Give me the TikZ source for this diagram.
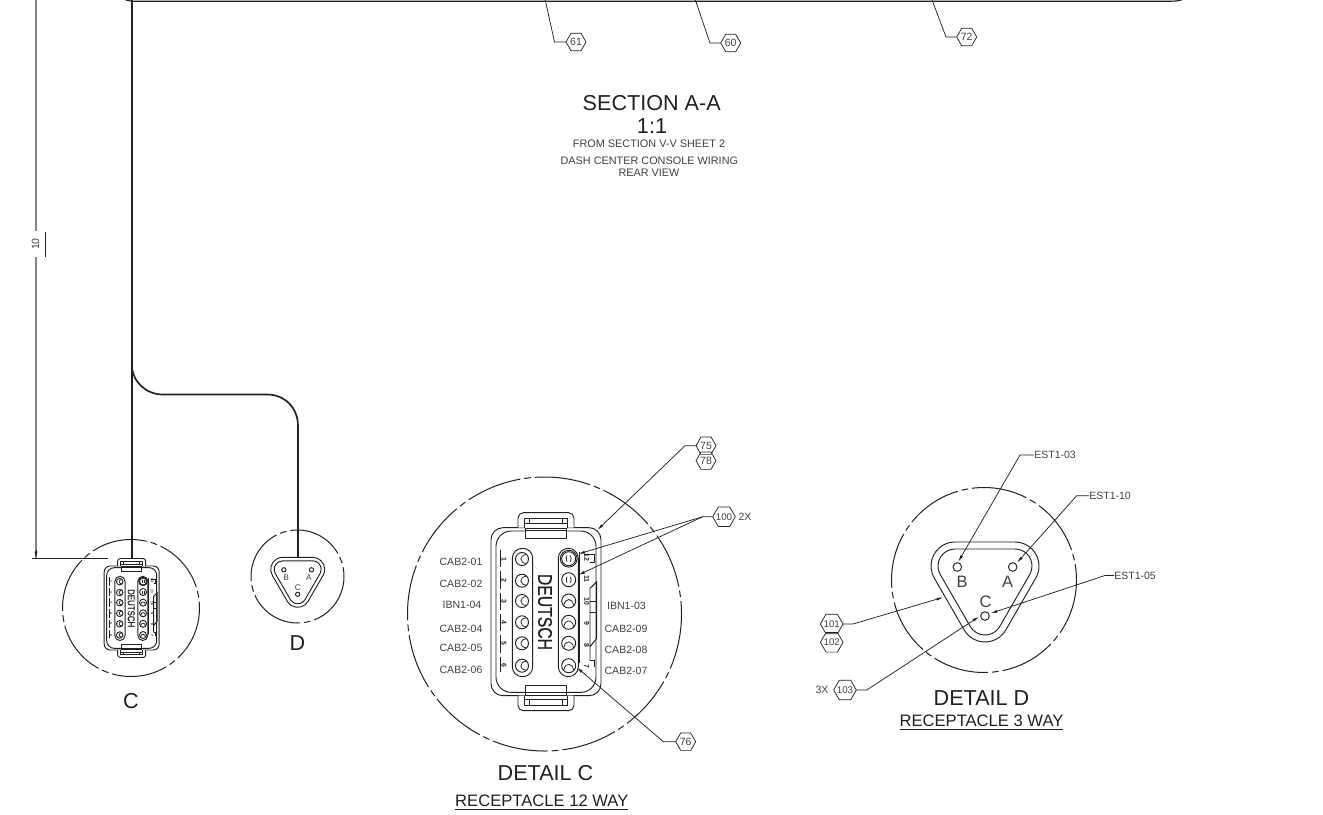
\documentclass[tikz,border=0pt]{standalone}
\usepackage{fontspec}
\usepackage{graphicx}
\setmainfont{Liberation Sans}
\newfontfamily\deutfont{Liberation Sans}[FakeBold=0.9]
\usetikzlibrary{arrows.meta,shapes.geometric}
\definecolor{ink}{HTML}{231F20}
\definecolor{soft}{HTML}{414042}
\definecolor{dimgrey}{HTML}{858585}
\tikzset{
  x=0.75pt,y=-0.75pt,
  line/.style={draw=ink,line width=0.7pt},
  wire/.style={draw=ink,line width=1.25pt},
  phantom/.style={draw=ink,line width=0.75pt,dash pattern=on 42pt off 3pt on 5pt off 3pt},
  lead/.style={draw=ink,line width=0.55pt,-{Latex[length=5pt,width=2.2pt]}},
  plain/.style={draw=ink,line width=0.55pt},
  dimline/.style={draw=dimgrey,line width=1pt},
  lbl/.style={text=soft,inner sep=0pt,font=\fontsize{7.9pt}{9pt}\selectfont},
  note/.style={text=soft,inner sep=0pt,font=\fontsize{8.15pt}{9pt}\selectfont},
  title/.style={text=ink,inner sep=0pt,font=\fontsize{16.2pt}{18pt}\selectfont},
  sub/.style={text=ink,inner sep=0pt,font=\fontsize{12.45pt}{15pt}\selectfont},
  hexa/.style={regular polygon,regular polygon sides=6,draw=ink,line width=0.55pt,inner sep=0pt,outer sep=0pt,minimum size=15pt,text=soft,font=\fontsize{7.9pt}{8pt}\selectfont},
  widehexa/.style={hexa,minimum size=17pt,font=\fontsize{7.3pt}{8pt}\selectfont},
  pinnum/.style={text=ink,inner sep=0pt,rotate=-90,font=\bfseries\fontsize{5.2pt}{6pt}\selectfont},
}
\newcommand{\hx}[3]{\node[hexa] (#1) at (#2) {\makebox[0pt]{#3}};}
\newcommand{\hxw}[3]{\node[widehexa] (#1) at (#2) {\makebox[0pt]{#3}};}
% #1 cx, #2 cy, #3 scale
\newcommand{\rcptwelve}[3]{%
\begin{scope}[shift={(#1,#2)},scale=#3,transform shape]
  \draw[line,rounded corners=#3*9pt] (-55,-84) rectangle (55,84);
  \draw[line,rounded corners=#3*11.5pt] (-50,-80.7) rectangle (50,80.7);
  \foreach \s in {1,-1}{
    \draw[line,fill=white,rounded corners=#3*4pt] (-28,\s*-84) -- (-28,\s*-99) -- (28,\s*-99) -- (28,\s*-84);
    \draw[line,fill=white] (-22,\s*-84) -- (-22,\s*-93.7) -- (21,\s*-93.7) -- (21,\s*-84);
    \draw[line] (-22,\s*-88) -- (-17,\s*-88) -- (-17,\s*-93.7);
    \draw[line] (21,\s*-88) -- (16,\s*-88) -- (16,\s*-93.7);
    \draw[line,fill=white] (-21,\s*-83.4) rectangle (20,\s*-73.4);
    \draw[line] (-21,\s*-81) -- (20,\s*-81);
    \draw[line] (-17,\s*-88) -- (16,\s*-88);
  }
  \draw[line,rounded corners=#3*7.5pt] (-33.7,-63.4) rectangle (-13.3,65);
  \draw[line,rounded corners=#3*7.5pt] (12.3,-63.4) rectangle (32.3,65);
  \foreach \y in {-52.7,-31,-10.7,10.6,31.6,54}{
    \draw[line] (-24,\y) circle [radius=6.5];
    \draw[plain] (-19.5,\y-4.5) .. controls (-27,\y-4) and (-27,\y+4) .. (-19.5,\y+4.5);
  }
  \foreach \y in {-53,-32}{
    \draw[line] (22.7,\y) circle [radius=7];
    \draw[plain] (21,\y-3) .. controls (20,\y-1) and (20,\y+1) .. (21,\y+3);
    \draw[plain] (24.4,\y-3) .. controls (25.4,\y-1) and (25.4,\y+1) .. (24.4,\y+3);
  }
  \draw[line] (22.7,-53) circle [radius=8.4];
  \foreach \y in {-10.7,10.6,31.6,54}{
    \draw[line] (22.7,\y) circle [radius=7];
    \draw[plain] (17.8,\y+4.5) .. controls (19,\y-3.5) and (26.4,\y-3.5) .. (27.6,\y+4.5);
  }
  \node[text=ink,inner sep=0pt,rotate=-90,font=\deutfont\fontsize{11.8pt}{13pt}\selectfont] at (-1,0.3) {\scalebox{1}[1.25]{DEUTSCH}};
  \draw[line,dash pattern=on #3*13pt off #3*3pt] (-45.3,-61.7) -- (-45.3,60);
  \foreach \y/\t in {-52.7/1,-31/2,-10.7/3,10.6/4,31.6/5,54/6}{
    \node[pinnum] at (-42,\y) {\t};
  }
  \foreach \y/\t in {-54.7/12,-32.7/11,-10/10,11.3/9,33.3/8,55/7}{
    \node[pinnum] at (40.7,\y) {\t};
  }
  \draw[line] (33,-60) -- (33,51.6);
  \draw[line] (38,-57.7) -- (48.3,-57.7) -- (48.3,-49.3) -- (44,-49.3);
  \draw[line] (44,48.6) -- (44,-23.4) -- (50.7,-30) -- (50.7,26.6) -- (44,35);
  \draw[line] (44,-10.7) -- (50.7,-10.7);
  \draw[line] (44,0.7) -- (50.7,0.7);
  \draw[line] (44,48.6) -- (48.3,48.6) -- (48.3,55);
\end{scope}}
% hull of three circles centred (+-30,24) and (0,76)
\newcommand{\hull}[1]{(-30,24-#1) -- (30,24-#1) arc[start angle=-90,end angle=30,radius=#1] -- ++(-30,52) arc[start angle=30,end angle=150,radius=#1] -- ++(-30,-52) arc[start angle=150,end angle=270,radius=#1] -- cycle}
% #1 x of the centre line, #2 y of the top edge, #3 scale
\newcommand{\rcpthree}[3]{%
\begin{scope}[shift={(#1,#2)},scale=#3,transform shape]
  \draw[line] \hull{24};
  \draw[line] \hull{17};
  \draw[line] (-27.7,25) circle [radius=4.3];
  \draw[line] (27.7,25) circle [radius=4.3];
  \draw[line] (0,74) circle [radius=4.3];
  \node[text=soft,inner sep=0pt,font=\fontsize{12.4pt}{14pt}\selectfont] at (-23,39.7) {B};
  \node[text=soft,inner sep=0pt,font=\fontsize{12.4pt}{14pt}\selectfont] at (22.5,39.7) {A};
  \node[text=soft,inner sep=0pt,font=\fontsize{12.4pt}{14pt}\selectfont] at (0.5,60) {C};
\end{scope}}
\begin{document}
\begin{tikzpicture}
\useasboundingbox (0,0) rectangle (1323,814);
\clip (0,0) rectangle (1323,814);
\fill[white] (0,0) rectangle (1323,814);

% harness
\draw[wire] (131.7,0) -- (131.7,560);
\draw[draw=ink,line width=0.85pt] (123,-1) .. controls (127,0) and (129,1.2) .. (131.7,1.2) -- (1172,1.2) .. controls (1178,1.2) and (1182,0) .. (1186,-2);
\draw[wire] (131.7,365) .. controls (132.5,382) and (146,394.5) .. (163,394.5) -- (267,394.5) .. controls (285,394.5) and (298,408) .. (298,426) -- (298,557);

% dimension
\coordinate (dimtop) at (36,0);
\coordinate (dimgapa) at (36,231);
\coordinate (dimgapb) at (36,257);
\coordinate (dimfoot) at (36,558.3);
\coordinate (exta) at (32,558.3);
\coordinate (extb) at (108,558.3);
\coordinate (bara) at (45.5,232);
\coordinate (barb) at (45.5,257);
\draw[dimline] (dimtop) -- (dimgapa);
\draw[dimline] (dimgapb) -- (dimfoot);
\draw[lead] (36,550) -- (dimfoot);
\draw[plain] (exta) -- (extb);
\draw[line] (bara) -- (barb);
\node[lbl,rotate=90] (dimten) at (35.5,244) {10};

% section callouts
\hx{h61}{576,42}{61}
\hx{h60}{730.7,43}{60}
\hx{h72}{966.7,37}{72}
\coordinate (t61) at (545,-1); \coordinate (k61) at (554.5,42);
\coordinate (t60) at (695,-1); \coordinate (k60) at (710,43);
\coordinate (t72) at (931.7,-1); \coordinate (k72) at (946,37);
\draw[plain] (t61) -- (k61) -- (h61.west);
\draw[plain] (t60) -- (k60) -- (h60.west);
\draw[plain] (t72) -- (k72) -- (h72.west);

\node[title] (sect) at (651.7,103) {SECTION A-A};
\node[title] (scale11) at (652,126.5) {1:1};
\node[note] (from) at (649,144) {FROM SECTION V-V SHEET 2};
\node[note] (dash) at (649.3,161) {DASH CENTER CONSOLE WIRING};
\node[note] (rear) at (649,173) {REAR VIEW};

% small C and D
\draw[phantom] (131,608) circle [radius=68.5];
\rcptwelve{131.7}{608}{0.5}
\node[title] (labc) at (131,701) {C};
\draw[phantom] (297.5,576.5) circle [radius=46.5];
\rcpthree{297.7}{557.3}{0.5}
\node[title] (labd) at (297.3,643) {D};

% detail C
\draw[phantom] (544.5,614) circle [radius=137];
\rcptwelve{546}{611.7}{1}
\node[lbl] (c01) at (461,562) {CAB2-01};
\node[lbl] (c02) at (461,584) {CAB2-02};
\node[lbl] (i04) at (462,605) {IBN1-04};
\node[lbl] (c04) at (461,628.6) {CAB2-04};
\node[lbl] (c05) at (461,648) {CAB2-05};
\node[lbl] (c06) at (461,670) {CAB2-06};
\node[lbl] (i03) at (626.5,606) {IBN1-03};
\node[lbl] (c09) at (626,628.6) {CAB2-09};
\node[lbl] (c08) at (626,650.3) {CAB2-08};
\node[lbl] (c07) at (626,671) {CAB2-07};
\hx{h75}{706,445.7}{75}
\hx{h78}{706,460.7}{78}
\hxw{h100}{724,516.7}{100}
\hx{h76}{685.7,741.7}{76}
\node[lbl] (twox) at (745,517) {2X};
\coordinate (k75) at (685,445.7); \coordinate (p75) at (597.3,530);
\coordinate (k100) at (702.7,516.7); \coordinate (p100a) at (578.3,554); \coordinate (p100b) at (578.3,575);
\coordinate (k76) at (663.3,741.7); \coordinate (p76) at (576.7,667.3);
\draw[lead] (h75.west) -- (k75) -- (p75);
\draw[lead] (h100.west) -- (k100) -- (p100a);
\draw[lead] (k100) -- (p100b);
\draw[lead] (h76.west) -- (k76) -- (p76);
\node[title] (detc) at (545.5,773) {DETAIL C};
\node[sub] (recc) at (541.8,802.5) {\underline{RECEPTACLE 12 WAY}};

% detail D
\draw[phantom] (984,580) circle [radius=92.5];
\rcpthree{985}{542}{1}
\node[lbl,anchor=west] (e03) at (1034,455) {EST1-03};
\node[lbl,anchor=west] (e10) at (1089,495.7) {EST1-10};
\node[lbl,anchor=west] (e05) at (1114,575.5) {EST1-05};
\hxw{h101}{831.7,624}{101}
\hxw{h102}{831.7,642.3}{102}
\hxw{h103}{845,690}{103}
\node[lbl] (threex) at (822,690) {3X};
\coordinate (k03) at (1020,455); \coordinate (p03) at (958.3,561.7);
\coordinate (k10) at (1076.7,495.7); \coordinate (p10) at (1017,562.7);
\coordinate (k05) at (1105,575.5); \coordinate (p05) at (990.7,613.3);
\coordinate (k101) at (853,624); \coordinate (p101) at (943.3,597.3);
\coordinate (k103) at (866.7,690); \coordinate (p103) at (979,616.7);
\draw[lead] (e03.west) -- (k03) -- (p03);
\draw[lead] (e10.west) -- (k10) -- (p10);
\draw[lead] (e05.west) -- (k05) -- (p05);
\draw[lead] (h101.east) -- (k101) -- (p101);
\draw[lead] (h103.east) -- (k103) -- (p103);
\node[title] (detd) at (981.5,698) {DETAIL D};
\node[sub] (recd) at (981.5,722.5) {\underline{RECEPTACLE 3 WAY}};
\end{tikzpicture}
\end{document}
